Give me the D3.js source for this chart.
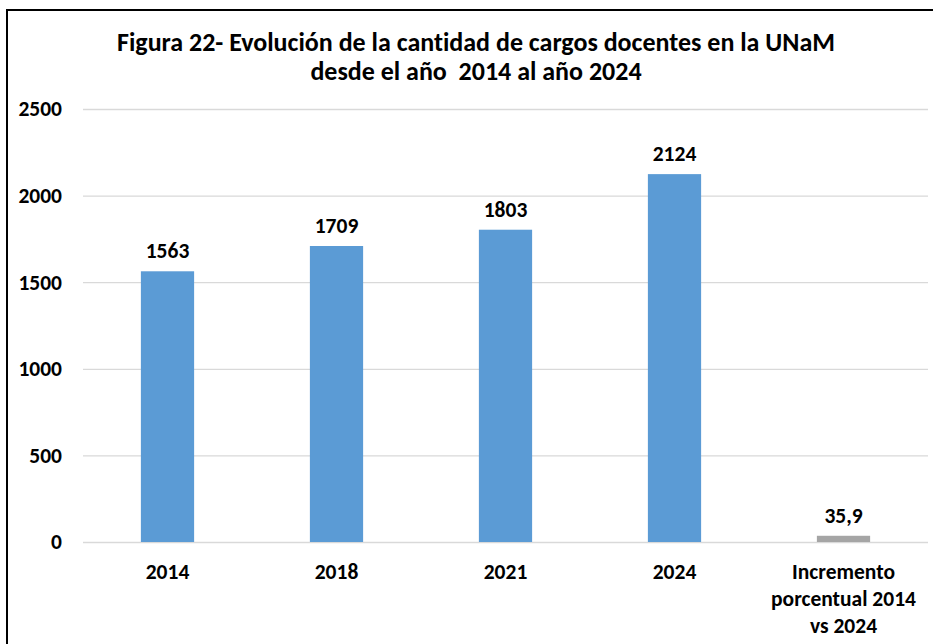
<!DOCTYPE html>
<html>
<head>
<meta charset="UTF-8">
<title>Figura 22</title>
<script src="https://d3js.org/d3.v7.min.js"></script>
<style>
  body { margin: 0; background: #fff; }
  text { font-family: Carlito, Calibri, "Liberation Sans Narrow", "Open Sans", sans-serif; font-weight: bold; fill: #000; font-variant-ligatures: none; }
</style>
</head>
<body>
<svg width="933" height="644" id="mainsvg"></svg>
<script>
// data
const categories = ["2014", "2018", "2021", "2024", "Incremento porcentual 2014 vs 2024"];
const values = [1563, 1709, 1803, 2124, 35.9];
const valueLabels = ["1563", "1709", "1803", "2124", "35,9"];
const barColors = ["#5b9bd5", "#5b9bd5", "#5b9bd5", "#5b9bd5", "#a5a5a5"];
const yTicks = [0, 500, 1000, 1500, 2000, 2500];
const titleLines = ["Figura 22- Evolución de la cantidad de cargos docentes en la UNaM", "desde el año  2014 al año 2024"];
const catLines = [["2014"], ["2018"], ["2021"], ["2024"], ["Incremento", "porcentual 2014", "vs 2024"]];

const svg = d3.select('#mainsvg');
const margin = {top: 109, right: 5, bottom: 102, left: 83};
const width = +svg.attr('width');
const height = +svg.attr('height');
const fs = '21.5px';

// frame (chart border, cut off at right and bottom like the original)
svg.append('path')
  .attr('d', `M7,644 L7,10 L933,10`)
  .attr('fill', 'none')
  .attr('stroke', '#000')
  .attr('stroke-width', 2);

// title
svg.append('text')
  .attr('text-anchor', 'middle')
  .style('font-size', '26px')
  .style('white-space', 'pre')
  .selectAll('tspan')
  .data(titleLines)
  .join('tspan')
  .attr('x', 476)
  .attr('y', (d, i) => 51 + i * 29)
  .text(d => d);

const xScale = d3.scaleBand()
  .domain(categories)
  .range([margin.left, width - margin.right])
  .paddingInner(0.685)
  .paddingOuter(0.3425);

const yScale = d3.scaleLinear()
  .domain([0, 2500])
  .range([height - margin.bottom, margin.top]);

// y axis with gridlines
const yAxis = d3.axisLeft(yScale)
  .tickValues(yTicks)
  .tickSize(-(width - margin.right - margin.left))
  .tickPadding(21)
  .tickFormat(d3.format('d'));
const yg = svg.append('g')
  .attr('transform', `translate(${margin.left},0)`)
  .call(yAxis);
yg.select('.domain').remove();
yg.selectAll('.tick line').attr('stroke', '#d9d9d9').attr('stroke-width', 1.3);
yg.selectAll('.tick text').style('font-size', fs).style('font-family', null);

// bars
svg.append('g').selectAll('rect')
  .data(values)
  .join('rect')
  .attr('x', (d, i) => xScale(categories[i]))
  .attr('y', d => yScale(d))
  .attr('width', xScale.bandwidth())
  .attr('height', d => yScale(0) - yScale(d))
  .attr('fill', (d, i) => barColors[i]);

// value labels
svg.append('g').selectAll('text')
  .data(values)
  .join('text')
  .attr('x', (d, i) => xScale(categories[i]) + xScale.bandwidth() / 2)
  .attr('y', d => yScale(d) - 13)
  .attr('text-anchor', 'middle')
  .style('font-size', fs)
  .text((d, i) => valueLabels[i]);

// category labels
const cl = svg.append('g').selectAll('text')
  .data(categories)
  .join('text')
  .attr('text-anchor', 'middle')
  .style('font-size', fs);
cl.selectAll('tspan')
  .data((d, i) => catLines[i].map(t => ({t, c: d})))
  .join('tspan')
  .attr('x', d => xScale(d.c) + xScale.bandwidth() / 2)
  .attr('y', (d, i) => yScale(0) + 37 + i * 27)
  .text(d => d.t);
</script>
</body>
</html>
